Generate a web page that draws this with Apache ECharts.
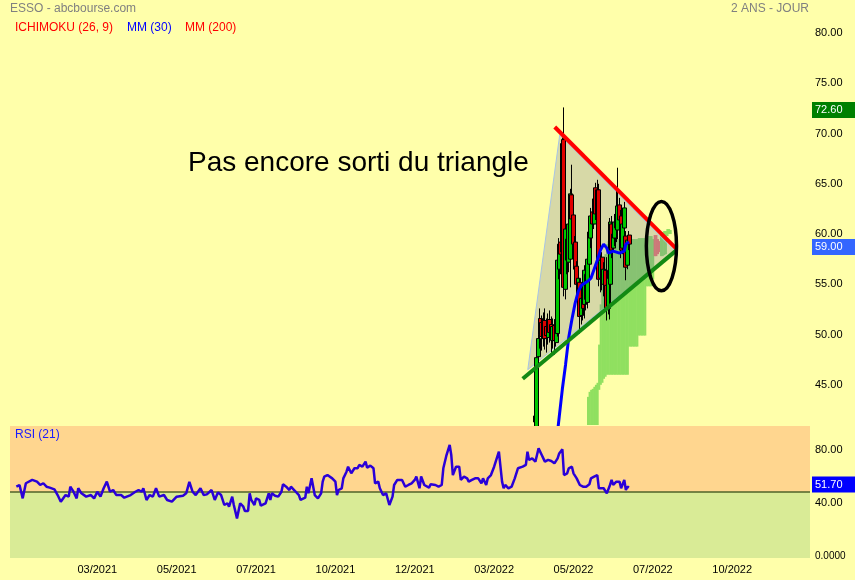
<!DOCTYPE html>
<html>
<head>
<meta charset="utf-8">
<script src="https://cdn.jsdelivr.net/npm/echarts@6/dist/echarts.min.js"></script>
<style>
html,body{margin:0;padding:0;background:#ffffaa;}
#c{width:855px;height:580px;}
</style>
</head>
<body>
<div id="c"></div>
<script>
// ---- axis ticks (trading-day index on x) ----
const xTickIdx = [55, 105, 155, 205, 255, 305, 355, 405, 455];
const xTickLabels = ['03/2021', '05/2021', '07/2021', '10/2021', '12/2021', '03/2022', '05/2022', '07/2022', '10/2022'];
const priceTicks = [45, 50, 55, 60, 65, 70, 75, 80];
const rsiTicks = [0, 40, 80];
const maxHigh = 72.6;
const lastClose = 59.0;
const lastRsi = 51.7;
const rsiMid = 48.3;

// ---- candles: [index, open, close, low, high] ----
const candles = [
  [331, 41.9, 41.3, 40.8, 42.2],
  [332, 39.5, 47.7, 39.0, 48.2],
  [333, 47.8, 49.6, 47.2, 50.4],
  [334, 51.6, 50.0, 48.6, 52.6],
  [335, 51.2, 49.8, 48.4, 51.9],
  [336, 49.6, 51.2, 48.8, 52.2],
  [337, 51.4, 49.6, 48.5, 52.6],
  [338, 50.8, 49.9, 48.2, 51.6],
  [339, 49.7, 51.3, 49.0, 52.1],
  [340, 51.5, 50.2, 49.2, 52.4],
  [341, 51.0, 49.6, 48.0, 51.8],
  [342, 49.4, 50.8, 48.6, 51.6],
  [343, 50.9, 49.4, 48.0, 51.5],
  [344, 49.2, 51.5, 48.8, 52.0],
  [345, 50.1, 57.4, 49.8, 57.9],
  [346, 56.5, 59.0, 55.5, 59.6],
  [347, 59.2, 58.0, 56.0, 60.2],
  [348, 58.2, 69.0, 57.5, 69.6],
  [349, 69.4, 54.7, 53.8, 72.6],
  [350, 54.5, 60.5, 53.5, 61.0],
  [351, 59.5, 57.4, 56.0, 60.0],
  [352, 57.2, 61.0, 56.2, 61.5],
  [353, 57.5, 64.0, 54.7, 64.5],
  [354, 63.9, 61.5, 60.8, 66.9],
  [355, 61.9, 59.0, 57.0, 62.5],
  [356, 59.2, 56.5, 55.3, 59.8],
  [357, 56.8, 55.0, 53.8, 57.3],
  [358, 54.8, 55.6, 52.5, 56.3],
  [359, 55.2, 51.8, 50.1, 55.6],
  [360, 51.9, 53.6, 51.0, 54.2],
  [361, 53.8, 52.6, 51.4, 54.8],
  [362, 53.0, 56.4, 51.6, 56.9],
  [363, 56.0, 53.5, 52.4, 57.0],
  [364, 53.2, 57.5, 52.6, 58.2],
  [365, 57.0, 60.2, 56.4, 60.8],
  [366, 59.6, 61.8, 58.6, 62.6],
  [367, 62.2, 61.0, 60.2, 63.2],
  [368, 61.0, 63.5, 60.5, 64.5],
  [369, 64.6, 62.0, 61.4, 65.1],
  [370, 61.8, 64.4, 61.2, 65.4],
  [371, 64.4, 55.5, 54.8, 65.0],
  [372, 55.6, 57.4, 54.2, 58.0],
  [373, 57.7, 55.6, 54.4, 58.2],
  [374, 55.0, 56.5, 53.8, 57.2],
  [375, 56.4, 54.8, 53.6, 57.6],
  [376, 54.9, 52.6, 51.4, 57.7],
  [377, 52.6, 55.6, 52.0, 56.2],
  [378, 55.0, 61.2, 51.5, 61.6],
  [379, 61.0, 58.4, 57.6, 61.8],
  [380, 58.6, 60.0, 57.8, 60.8],
  [381, 59.6, 61.2, 58.8, 62.0],
  [382, 61.5, 60.6, 59.2, 64.5],
  [383, 60.4, 62.8, 59.5, 66.6],
  [384, 62.9, 61.4, 60.2, 63.6],
  [385, 61.8, 58.4, 57.6, 62.4],
  [386, 58.6, 61.0, 58.0, 61.6],
  [387, 60.6, 62.6, 59.8, 63.2],
  [388, 59.8, 56.7, 55.4, 60.3],
  [389, 56.9, 59.4, 56.5, 59.9],
  [390, 59.9, 59.0, 58.4, 60.3]
];

// ---- MM(30): [index, value] ----
const mm30 = [
  [344, 39.0], [346, 41.8], [348, 44.6], [350, 47.0], [352, 49.7], [354, 51.5],
  [356, 53.1], [358, 54.3], [360, 54.9], [364, 55.3], [366, 55.6], [368, 56.5],
  [370, 57.4], [372, 58.4], [374, 59.0], [375, 59.1], [376, 58.6], [377, 58.1],
  [380, 58.3], [384, 58.1], [387, 58.3], [388, 59.0], [390, 59.2]
];

// ---- Ichimoku cloud: [index, spanA, spanB] ----
const kumo = [
  [363, 40.4, 35.0], [364, 43.8, 35.0], [365, 44.3, 35.0], [366, 44.5, 35.0], [367, 44.6, 35.0],
  [368, 44.8, 35.0], [369, 45.0, 35.0], [370, 45.2, 41.0], [371, 49.0, 44.5], [372, 53.0, 45.0],
  [373, 55.5, 45.2], [374, 57.0, 45.6], [375, 58.0, 45.8], [376, 59.0, 46.0], [377, 59.3, 46.0],
  [378, 59.5, 46.0], [379, 59.5, 46.0], [380, 59.5, 46.0], [381, 59.5, 46.0], [382, 59.5, 46.0],
  [383, 59.5, 46.0], [384, 59.5, 46.0], [385, 59.5, 46.0], [386, 59.5, 46.0], [387, 59.5, 46.0],
  [388, 59.5, 46.0], [389, 59.5, 46.0], [390, 59.5, 48.8], [391, 59.5, 48.8], [392, 59.5, 48.8],
  [393, 59.5, 48.8], [394, 59.5, 48.8], [395, 59.5, 48.8], [396, 59.6, 49.9], [397, 59.6, 49.9],
  [398, 59.6, 49.9], [399, 59.6, 49.9], [400, 59.6, 49.9], [401, 59.8, 54.8], [402, 59.8, 54.8],
  [403, 59.8, 54.8], [404, 59.8, 54.8], [405, 59.5, 55.5], [406, 57.8, 59.9], [407, 57.8, 59.9],
  [408, 58.0, 59.5], [409, 58.2, 59.3], [410, 60.2, 57.8], [411, 60.2, 57.8], [412, 60.3, 57.9],
  [413, 60.3, 58.0], [414, 60.5, 59.8], [415, 60.5, 60.0], [416, 60.4, 60.0]
];

// ---- RSI(21): [index, value] ----
const rsi = [
  [4,52.3],[6,53.6],[8,43.5],[10,54.9],[14,57.4],[17,56.1],[19,53.6],[21,54.9],[23,52.3],[25,51.6],
  [28,50.3],[30,46.0],[32,41.0],[35,46.0],[37,44.8],[38,52.3],[40,48.5],[42,43.5],[43,51.1],[45,47.3],
  [48,44.8],[51,46.0],[53,43.5],[55,48.5],[57,44.8],[59,51.1],[61,56.1],[63,48.5],[65,49.8],[67,46.0],
  [70,46.0],[72,44.0],[76,46.0],[79,48.5],[81,49.8],[83,48.5],[84,51.1],[86,42.3],[88,46.0],[90,44.8],
  [92,51.1],[94,44.8],[97,46.0],[99,42.3],[102,41.0],[103,39.8],[105,44.8],[109,45.5],[111,47.3],[113,56.0],
  [115,48.5],[117,46.0],[120,51.1],[122,46.0],[124,46.5],[127,49.8],[129,42.3],[131,48.0],[133,46.0],[135,38.5],
  [137,39.8],[138,37.2],[140,44.8],[141,38.5],[143,28.4],[145,39.8],[147,37.2],[148,34.0],[150,34.0],[151,47.3],
  [152,42.3],[154,38.5],[155,43.5],[157,42.3],[158,38.0],[161,39.8],[163,47.3],[164,42.3],[165,47.3],[167,45.5],
  [169,44.8],[171,48.5],[172,54.1],[174,52.3],[176,49.8],[177,52.3],[179,49.8],[182,46.0],[183,42.3],[186,44.0],
  [187,52.3],[188,47.3],[190,58.6],[192,46.0],[194,43.5],[196,47.3],[197,56.1],[198,59.9],[200,61.1],[203,58.6],
  [205,56.1],[206,46.0],[207,49.8],[209,51.1],[210,58.6],[212,63.6],[213,67.4],[215,62.4],[217,66.2],[219,66.2],
  [220,68.7],[222,67.4],[224,71.2],[225,66.7],[227,68.2],[229,66.2],[230,54.8],[232,56.1],[233,51.1],[235,46.0],
  [237,47.3],[239,38.5],[241,44.8],[242,53.6],[244,57.4],[247,57.4],[249,52.3],[251,53.6],[253,54.8],[255,57.4],
  [256,59.9],[258,51.1],[259,60.0],[261,53.6],[262,52.3],[264,51.6],[265,54.1],[268,53.6],[270,52.3],[271,51.1],
  [272,53.6],[273,66.2],[275,76.2],[277,83.8],[278,76.2],[279,61.1],[281,67.4],[283,67.4],[284,57.4],[286,59.9],
  [288,58.6],[289,56.1],[291,57.4],[293,58.6],[295,58.6],[297,54.8],[298,58.6],[300,53.6],[301,58.6],[303,61.1],
  [305,67.4],[308,78.7],[310,56.1],[311,51.1],[312,53.6],[314,51.1],[316,52.3],[318,58.6],[320,66.2],[321,66.2],
  [323,67.4],[325,68.7],[326,78.7],[327,72.5],[329,73.7],[331,71.2],[332,76.2],[333,81.2],[335,76.2],[336,73.7],
  [337,71.2],[339,72.5],[341,71.7],[343,69.9],[345,73.7],[346,77.4],[348,80.5],[349,61.1],[351,62.4],[352,66.2],
  [354,67.4],[355,62.4],[357,58.6],[359,53.6],[361,52.3],[363,52.3],[365,54.1],[366,58.6],[368,59.9],[370,61.1],
  [371,51.1],[374,51.1],[376,47.3],[378,53.6],[379,57.4],[380,53.6],[382,56.1],[384,56.1],[385,51.1],[387,57.4],
  [388,49.8],[389,52.3],[390,51.7]
];

// ---- drawn annotations in (index, price) space ----
const triangle = [[346.3, 69.85], [418.8, 58.3], [326.2, 46.5]];
const resistance = [[343.2, 70.65], [420, 58.5]];
const support = [[323, 45.6], [420, 58.4]];
const ellipse = [410.4, 58.8, 9.5, 4.45]; // centre index, centre price, radius (index), radius (price)

const FONT = "'Liberation Sans', Arial, sans-serif";
const chart = echarts.init(document.getElementById('c'));

const richBase = {
  n: {fontSize: 11, color: '#000', padding: [0, 0, 0, 3], fontFamily: FONT},
  z: {fontSize: 10, color: '#000', padding: [0, 0, 0, 3], fontFamily: FONT}
};
function tickLabel(v) {
  if (v === 0) return '{z|0.0000}';
  return '{n|' + v.toFixed(2) + '}';
}

const baseGraphic = [
  {id: 't1', type: 'text', x: 10, y: 9, style: {text: 'ESSO - abcbourse.com', fill: '#808080', font: "12px " + FONT, verticalAlign: 'middle', align: 'left'}},
  {id: 't2', type: 'text', x: 809, y: 9, style: {text: '2 ANS - JOUR', fill: '#808080', font: "12px " + FONT, verticalAlign: 'middle', align: 'right'}},
  {id: 't3', type: 'text', x: 15, y: 28, style: {text: 'ICHIMOKU (26, 9)', fill: '#ff0000', font: "12px " + FONT, verticalAlign: 'middle', align: 'left'}},
  {id: 't4', type: 'text', x: 127, y: 28, style: {text: 'MM (30)', fill: '#0000ff', font: "12px " + FONT, verticalAlign: 'middle', align: 'left'}},
  {id: 't5', type: 'text', x: 185, y: 28, style: {text: 'MM (200)', fill: '#ff0000', font: "12px " + FONT, verticalAlign: 'middle', align: 'left'}},
  {id: 't6', type: 'text', x: 188, y: 163, z: 100, style: {text: 'Pas encore sorti du triangle', fill: '#000', font: "28px " + FONT, verticalAlign: 'middle', align: 'left'}},
  {id: 't7', type: 'text', x: 15, y: 435, z: 100, style: {text: 'RSI (21)', fill: '#1a1aff', font: "12px " + FONT, verticalAlign: 'middle', align: 'left'}}
];

const option = {
  backgroundColor: '#ffffaa',
  animation: false,
  textStyle: {fontFamily: FONT},
  grid: [
    {left: 10, right: 45, top: 23, height: 402, outerBoundsMode: 'none', containLabel: false},
    {left: 10, right: 45, top: 426, height: 132, outerBoundsMode: 'none', containLabel: false}
  ],
  xAxis: [
    {type: 'value', gridIndex: 0, min: 0, max: 504, show: false},
    {type: 'value', gridIndex: 1, min: 0, max: 504,
     axisLine: {show: false}, axisTick: {show: false}, splitLine: {show: false},
     axisLabel: {customValues: xTickIdx, formatter: function (v) { return xTickLabels[xTickIdx.indexOf(v)]; },
                 fontSize: 11, color: '#000', margin: 6, fontFamily: FONT}}
  ],
  yAxis: [
    {type: 'value', gridIndex: 0, position: 'right', min: 41, max: 81,
     axisLine: {show: false}, axisTick: {show: false}, splitLine: {show: false},
     axisLabel: {customValues: priceTicks, formatter: tickLabel, margin: 2, rich: richBase}},
    {type: 'value', gridIndex: 1, position: 'right', min: -1.5, max: 98.1,
     axisLine: {show: false}, axisTick: {show: false}, splitLine: {show: false},
     axisLabel: {customValues: rsiTicks, formatter: tickLabel, margin: 2, rich: richBase}}
  ],
  graphic: baseGraphic,
  series: [
    { // Ichimoku cloud
      type: 'custom', xAxisIndex: 0, yAxisIndex: 0, z: 1, silent: true, clip: true,
      data: kumo,
      renderItem: function (params, api) {
        const i = api.value(0), a = api.value(1), b = api.value(2);
        const p1 = api.coord([i - 0.5, a]);
        const p2 = api.coord([i + 0.5, b]);
        return {type: 'rect',
          shape: {x: p1[0], y: Math.min(p1[1], p2[1]), width: p2[0] - p1[0] + 0.6, height: Math.abs(p2[1] - p1[1])},
          style: {fill: a >= b ? '#90e060' : '#f07a6a'}};
      }
    },
    { // triangle fill
      type: 'custom', xAxisIndex: 0, yAxisIndex: 0, z: 2, silent: true,
      data: [triangle[0]],
      renderItem: function (params, api) {
        return {type: 'polygon',
          shape: {points: triangle.map(function (p) { return api.coord(p); })},
          style: {fill: 'rgba(110,120,160,0.28)', stroke: '#a8c4e6', lineWidth: 1}};
      }
    },
    {
      type: 'candlestick', xAxisIndex: 0, yAxisIndex: 0, z: 3, silent: true, clip: true,
      dimensions: ['idx', 'open', 'close', 'lowest', 'highest'],
      encode: {x: 'idx', y: ['open', 'close', 'lowest', 'highest']},
      data: candles,
      barWidth: 4.5,
      itemStyle: {color: '#00c800', color0: '#e00000', borderColor: '#000', borderColor0: '#000', borderWidth: 1}
    },
    {
      type: 'line', xAxisIndex: 0, yAxisIndex: 0, z: 4, silent: true,
      data: mm30, showSymbol: false, symbol: 'none',
      lineStyle: {color: '#0000ff', width: 3}
    },
    {
      type: 'line', xAxisIndex: 0, yAxisIndex: 0, z: 5, silent: true,
      data: resistance, symbol: 'none', lineStyle: {color: '#ff0000', width: 4}
    },
    {
      type: 'line', xAxisIndex: 0, yAxisIndex: 0, z: 5, silent: true,
      data: support, symbol: 'none', lineStyle: {color: '#138a13', width: 4}
    },
    { // ellipse
      type: 'custom', xAxisIndex: 0, yAxisIndex: 0, z: 6, silent: true,
      data: [[ellipse[0], ellipse[1]]],
      renderItem: function (params, api) {
        const c = api.coord([ellipse[0], ellipse[1]]);
        const s = api.size([ellipse[2], ellipse[3]]);
        return {type: 'ellipse', shape: {cx: c[0], cy: c[1], rx: s[0], ry: s[1]},
          style: {fill: 'transparent', stroke: '#000', lineWidth: 3.5}};
      }
    },
    { // RSI panel bands and midline (drawn above any price-panel overflow)
      type: 'custom', xAxisIndex: 1, yAxisIndex: 1, z: 10, silent: true,
      data: [[0, rsiMid]],
      renderItem: function (params, api) {
        const tl = api.coord([0, 98.1]);
        const mid = api.coord([504, rsiMid]);
        const br = api.coord([504, -1.5]);
        return {type: 'group', children: [
          {type: 'rect', shape: {x: tl[0], y: tl[1], width: mid[0] - tl[0], height: mid[1] - tl[1]}, style: {fill: '#ffd68f'}},
          {type: 'rect', shape: {x: tl[0], y: mid[1], width: br[0] - tl[0], height: br[1] - mid[1]}, style: {fill: '#d9eb96'}},
          {type: 'line', shape: {x1: tl[0], y1: mid[1], x2: mid[0], y2: mid[1]}, style: {stroke: '#4f6228', lineWidth: 1.5}}
        ]};
      }
    },
    {
      type: 'line', xAxisIndex: 1, yAxisIndex: 1, z: 11, silent: true,
      data: rsi, showSymbol: false, symbol: 'none',
      lineStyle: {color: '#2a00d8', width: 2.5}
    }
  ]
};
chart.setOption(option);

// value tags on the right axis, placed through the axis scales
function valueTag(id, yAxisIndex, v, bg, dy) {
  const y = chart.convertToPixel({yAxisIndex: yAxisIndex}, v) + dy;
  return {id: id, type: 'group', x: 812, y: y, z: 120, children: [
    {type: 'rect', shape: {x: 0, y: -8, width: 43, height: 16}, style: {fill: bg}},
    {type: 'text', x: 3, y: 0, style: {text: v.toFixed(2), fill: '#fff', font: '11px ' + FONT, verticalAlign: 'middle', align: 'left'}}
  ]};
}
chart.setOption({graphic: baseGraphic.concat([
  valueTag('g1', 0, maxHigh, '#008000', 2.6),
  valueTag('g2', 0, lastClose, '#3366ff', 3),
  valueTag('g3', 1, lastRsi, '#0000ff', -3)
])});
</script>
</body>
</html>
